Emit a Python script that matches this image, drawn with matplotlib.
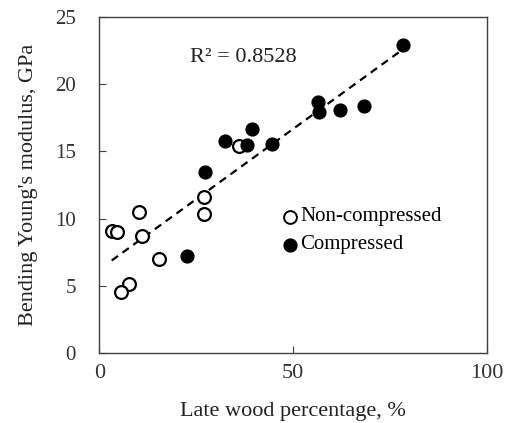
import matplotlib

matplotlib.use("Agg")
import matplotlib.pyplot as plt
import numpy as np

# late wood percentage (%) and bending Young's modulus (GPa)
non_comp_x = [3.2, 4.5, 10.2, 11.1, 15.5, 7.7, 5.5, 26.9, 27.0, 36.1]
non_comp_y = [9.07, 9.0, 10.5, 8.7, 7.0, 5.1, 4.5, 11.6, 10.33, 15.43]
comp_x = [78.5, 56.5, 56.6, 62.1, 68.3, 39.3, 32.5, 38.0, 44.5, 27.3, 22.6]
comp_y = [22.9, 18.7, 17.94, 18.06, 18.38, 16.65, 15.77, 15.48, 15.55, 13.49, 7.23]

x_ticks = [0, 50, 100]
y_ticks = [0, 5, 10, 15, 20, 25]

plt.rcParams["font.family"] = ["Liberation Serif", "DejaVu Serif"]

fig = plt.figure(figsize=(5.05, 4.23), dpi=100)
ax = fig.add_axes([99.3 / 505, 1 - 352.7 / 423, 387.4 / 505, 335.4 / 423])

all_x = np.array(non_comp_x + comp_x)
all_y = np.array(non_comp_y + comp_y)
slope, intercept = np.polyfit(all_x, all_y, 1)
fx = np.array([all_x.min(), all_x.max()])
ax.plot(fx, slope * fx + intercept, ls=(0, (3.5, 2.5)), color="black", lw=1.6, zorder=2)

ax.scatter(non_comp_x, non_comp_y, s=85, facecolor="white", edgecolor="black", linewidth=1.6, zorder=3)
ax.scatter(comp_x, comp_y, s=85, facecolor="black", edgecolor="black", linewidth=1.0, zorder=4)

ax.text(23.4, 22.0, "R² = 0.8528", fontsize=16, color="#222222", va="center")

# legend drawn as markers + text like the original
ax.scatter([49.2], [10.14], s=85, facecolor="white", edgecolor="black", linewidth=1.4, zorder=3)
ax.text(51.8, 10.14, "Non-compressed", fontsize=15, va="center")
ax.scatter([49.2], [8.03], s=85, facecolor="black", edgecolor="black", zorder=3)
ax.text(51.8, 8.03, "Compressed", fontsize=15, va="center")

ax.set_xlim(0, 100)
ax.set_ylim(0, 25)
ax.set_xticks(x_ticks)
ax.set_yticks(y_ticks)
ax.tick_params(direction="in", length=5, color="#404040", labelcolor="#333333")
ax.tick_params(axis="y", pad=17, labelsize=15)
ax.tick_params(axis="x", pad=8, labelsize=16)
for s in ax.spines.values():
    s.set_color("#404040")
    s.set_linewidth(1.0)

ax.set_xlabel("Late wood percentage, %", fontsize=16, color="#222222", labelpad=14)
ax.set_ylabel("Bending Young's modulus, GPa", fontsize=16, color="#222222", labelpad=12)

fig.savefig("out.png", dpi=100)
